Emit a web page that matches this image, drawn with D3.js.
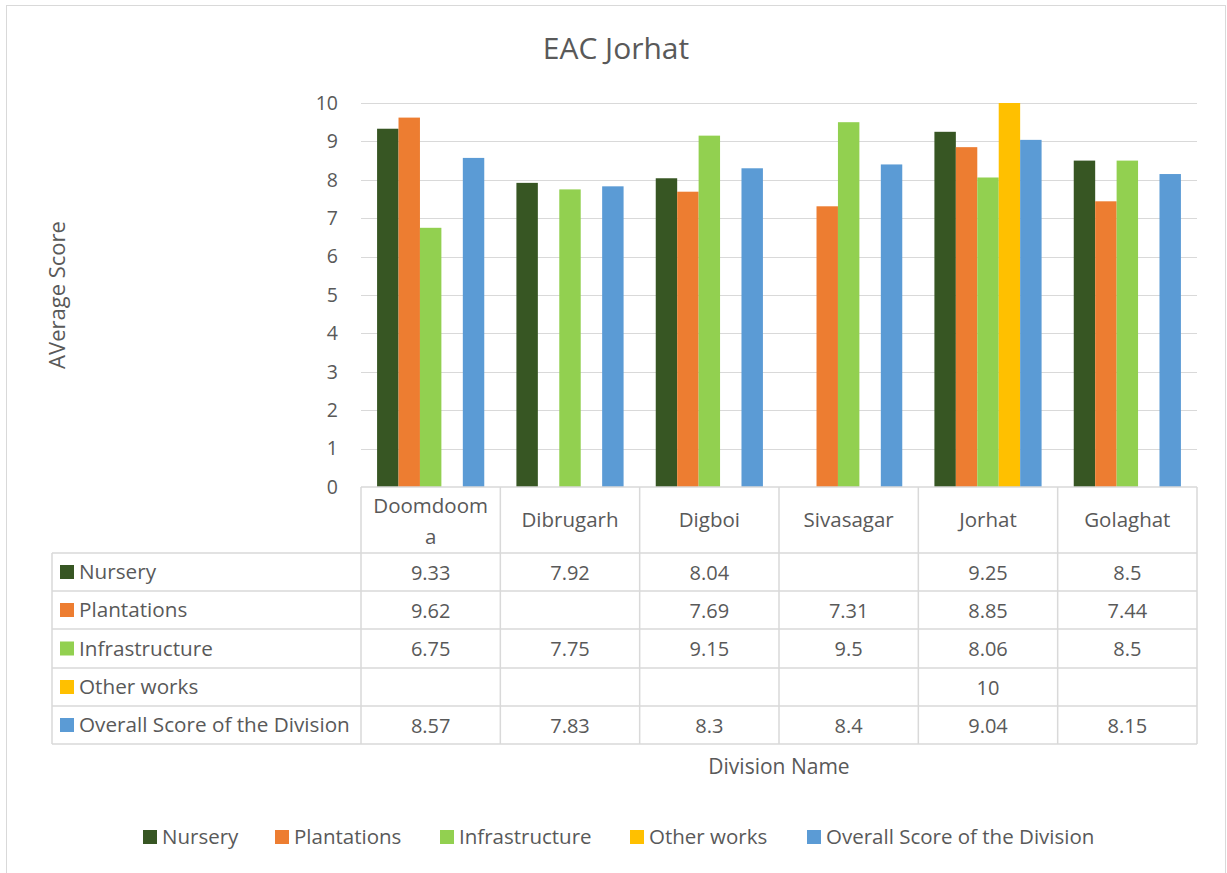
<!DOCTYPE html>
<html>
<head>
<meta charset="utf-8">
<script src="https://cdn.jsdelivr.net/npm/d3@7"></script>
<style>
  body { margin: 0; background: #fff; }
  text { font-family: "Open Sans", Lato, sans-serif; fill: #595959; }
</style>
</head>
<body>
<div id="app"></div>
<script>
// data
let divisions = ["Doomdooma", "Dibrugarh", "Digboi", "Sivasagar", "Jorhat", "Golaghat"]
let seriesNames = ["Nursery", "Plantations", "Infrastructure", "Other works", "Overall Score of the Division"]
let nursery = [9.33, 7.92, 8.04, null, 9.25, 8.5]
let plantations = [9.62, null, 7.69, 7.31, 8.85, 7.44]
let infrastructure = [6.75, 7.75, 9.15, 9.5, 8.06, 8.5]
let otherWorks = [null, null, null, null, 10, null]
let overall = [8.57, 7.83, 8.3, 8.4, 9.04, 8.15]
let yTicks = [0, 1, 2, 3, 4, 5, 6, 7, 8, 9, 10]
let colors = ["#375623", "#ED7D31", "#92D050", "#FFC000", "#5B9BD5"]

let seriesValues = [nursery, plantations, infrastructure, otherWorks, overall]

let width = 1227, height = 873
let svg = d3.select("#app").append("svg")
    .attr("width", width)
    .attr("height", height)

// chart border
svg.append("rect")
    .attr("x", 6.5).attr("y", 5.5)
    .attr("width", 1219).attr("height", 880)
    .attr("fill", "none").attr("stroke", "#d9d9d9")

let plotLeft = 361, plotRight = 1197, plotTop = 103, plotBottom = 487
let tableLeft = 52

let x = d3.scaleBand().domain(divisions).range([plotLeft, plotRight])
let y = d3.scaleLinear().domain([0, 10]).range([plotBottom, plotTop])
let groupW = x.bandwidth() * 5 / 6.5
let x1 = d3.scaleBand().domain(seriesNames)
    .range([(x.bandwidth() - groupW) / 2, (x.bandwidth() + groupW) / 2])

// gridlines
svg.append("g").selectAll("line")
    .data(yTicks.slice(1))
    .enter().append("line")
    .attr("x1", plotLeft).attr("x2", plotRight)
    .attr("y1", d => Math.round(y(d)) + 0.5).attr("y2", d => Math.round(y(d)) + 0.5)
    .attr("stroke", "#d9d9d9")

// y tick labels
svg.append("g").selectAll("text")
    .data(yTicks)
    .enter().append("text")
    .attr("x", 338).attr("y", d => y(d))
    .attr("dy", "0.35em")
    .attr("text-anchor", "end")
    .style("font-size", "19.5px")
    .text(d => d)

// bars
let barData = []
seriesNames.forEach((s, i) => {
    divisions.forEach((c, j) => {
        if (seriesValues[i][j] != null) barData.push({s: s, c: c, v: seriesValues[i][j], i: i})
    })
})
svg.append("g").selectAll("rect")
    .data(barData)
    .enter().append("rect")
    .attr("x", d => x(d.c) + x1(d.s))
    .attr("width", x1.bandwidth())
    .attr("y", d => y(d.v))
    .attr("height", d => y(0) - y(d.v))
    .attr("fill", d => colors[d.i])

// data table
let rowH = [66, 38, 38, 39, 38, 38]
let rowY = [plotBottom]
rowH.forEach((h, i) => rowY.push(rowY[i] + h))
let grid = svg.append("g").attr("stroke", "#d9d9d9").attr("stroke-width", 1.5)

// horizontal lines
grid.append("line").attr("x1", plotLeft).attr("x2", plotRight)
    .attr("y1", rowY[0]).attr("y2", rowY[0])
grid.selectAll(".h").data(rowY.slice(1)).enter().append("line")
    .attr("x1", tableLeft).attr("x2", plotRight)
    .attr("y1", d => d).attr("y2", d => d)

// vertical lines
let colX = divisions.map(d => x(d)).concat([plotRight])
grid.selectAll(".v").data(colX).enter().append("line")
    .attr("x1", d => d).attr("x2", d => d)
    .attr("y1", rowY[0]).attr("y2", rowY[6])
grid.append("line").attr("x1", tableLeft).attr("x2", tableLeft)
    .attr("y1", rowY[1]).attr("y2", rowY[6])

// header
let header = svg.append("g").selectAll("text")
    .data(divisions)
    .enter().append("text")
    .attr("x", d => x(d) + x.bandwidth() / 2)
    .attr("text-anchor", "middle")
    .style("font-size", "20.5px")
header.each(function(d) {
    let t = d3.select(this)
    if (d === "Doomdooma") {
        t.append("tspan").attr("x", x(d) + x.bandwidth() / 2).attr("y", rowY[0] + 26).text("Doomdoom")
        t.append("tspan").attr("x", x(d) + x.bandwidth() / 2).attr("y", rowY[0] + 57).text("a")
    } else {
        t.attr("y", rowY[0] + 40).text(d)
    }
})

// rows
seriesNames.forEach((s, i) => {
    let cy = (rowY[i + 1] + rowY[i + 2]) / 2
    svg.append("rect")
        .attr("x", 60).attr("y", cy - 7)
        .attr("width", 14).attr("height", 14)
        .attr("fill", colors[i])
    svg.append("text")
        .attr("x", 79).attr("y", cy).attr("dy", "0.35em")
        .style("font-size", "20.7px")
        .text(s)
    svg.append("g").selectAll("text")
        .data(divisions)
        .enter().append("text")
        .attr("x", d => x(d) + x.bandwidth() / 2)
        .attr("y", cy).attr("dy", "0.38em")
        .attr("text-anchor", "middle")
        .style("font-size", "20px")
        .text((d, j) => seriesValues[i][j] == null ? "" : seriesValues[i][j])
})

// titles
svg.append("text")
    .attr("x", 616).attr("y", 59)
    .attr("text-anchor", "middle")
    .style("font-size", "30px")
    .text("EAC Jorhat")

svg.append("text")
    .attr("transform", "translate(65,295) rotate(-90)")
    .attr("text-anchor", "middle")
    .style("font-size", "22px")
    .text("AVerage Score")

svg.append("text")
    .attr("x", 779).attr("y", 774)
    .attr("text-anchor", "middle")
    .style("font-size", "21px")
    .text("Division Name")

// legend
let legendX = [143, 275, 440, 630, 807]
let legend = svg.append("g").selectAll("g")
    .data(seriesNames)
    .enter().append("g")
    .attr("transform", (d, i) => "translate(" + legendX[i] + ",837)")
legend.append("rect")
    .attr("x", 0).attr("y", -7).attr("width", 14).attr("height", 14)
    .attr("fill", (d, i) => colors[i])
legend.append("text")
    .attr("x", 19).attr("dy", "0.35em")
    .style("font-size", "20.5px")
    .text(d => d)
</script>
</body>
</html>
